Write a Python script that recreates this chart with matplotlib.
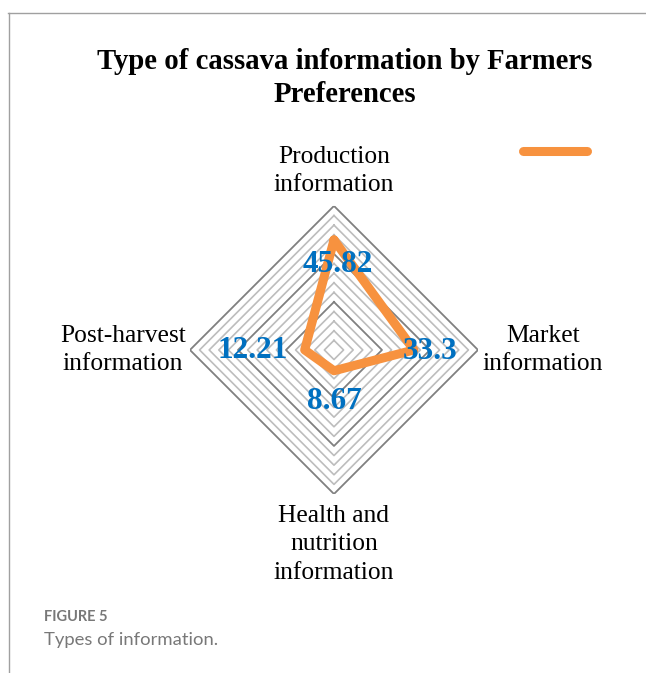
import numpy as np
import matplotlib
matplotlib.use('Agg')
import matplotlib.pyplot as plt
from matplotlib.lines import Line2D

plt.rcParams['font.family'] = ['Liberation Serif', 'DejaVu Serif']

# 数据
categories = ['Production\ninformation', 'Market\ninformation',
              'Health and\nnutrition\ninformation', 'Post-harvest\ninformation']
values = [45.82, 33.3, 8.67, 12.21]
value_labels = ['45.82', '33.3', '8.67', '12.21']
rmax = 60
ring_step = 4
major_step = 20

theta = np.arange(len(categories)) * 2 * np.pi / len(categories)

fig = plt.figure(figsize=(6.46, 6.73), dpi=100)
ax = fig.add_axes([0.294, 0.266, 0.446, 0.428], projection='polar')
ax.set_theta_offset(np.pi / 2)
ax.set_theta_direction(-1)
ax.set_ylim(0, rmax)
ax.grid(False)
ax.spines['polar'].set_visible(False)
ax.set_xticks([])
ax.set_yticks([])
ax.patch.set_alpha(0)

# 菱形网格线
th_closed = np.append(theta, theta[0])
for r in np.arange(ring_step, rmax + 0.1, ring_step):
    major = abs(r % major_step) < 1e-6
    ax.plot(th_closed, [r] * len(th_closed),
            color='#808080' if major else '#bdbdbd',
            lw=1.3 if major else 1.2, zorder=1)

# 数据线
vals_closed = values + values[:1]
line, = ax.plot(th_closed, vals_closed, color='#F7923F', lw=6.5,
                solid_joinstyle='round', solid_capstyle='round', zorder=3)

# 数据标签
offsets = [(4, -25), (16, -2), (0, -31), (-52, -1)]
for t, v, s, off in zip(theta, values, value_labels, offsets):
    ax.annotate(s, xy=(t, v), xytext=off, textcoords='offset pixels',
                ha='center', va='center', fontsize=22.5, fontweight='bold',
                color='#0070C0', zorder=4)

# 类别标签
label_r = [74.5, 87, 81, 88]
for t, c, r in zip(theta, categories, label_r):
    ax.text(t, r, c, ha='center', va='center', fontsize=18.4,
            linespacing=1.36, color='black')

# 标题
fig.text(0.534, 1 - 78 / 673, 'Type of cassava information by Farmers\nPreferences',
         ha='center', va='center', fontsize=20.7, fontweight='bold',
         linespacing=1.3)

# 图例（无文字）
ax.legend(handles=[line], labels=[''], loc='center left', frameon=False,
          bbox_to_anchor=(523 / 646, 1 - 152 / 673),
          bbox_transform=fig.transFigure, handlelength=4.6, fontsize=10,
          borderpad=0, borderaxespad=0, handletextpad=0)

# 外框线
fig.add_artist(Line2D([8 / 646, 1], [1 - 13 / 673, 1 - 13 / 673],
                      transform=fig.transFigure, color='#a0a0a0', lw=1))
fig.add_artist(Line2D([9 / 646, 9 / 646], [0, 1 - 13 / 673],
                      transform=fig.transFigure, color='#a0a0a0', lw=1))

# 图注
fig.text(44 / 646, 1 - 617 / 673, 'FIGURE 5', ha='left', va='center',
         fontsize=10.5, fontweight='bold', color='#787878', family='Lato')
fig.text(44 / 646, 1 - 640 / 673, 'Types of information.', ha='left',
         va='center', fontsize=13.3, color='#787878', family='Lato')

fig.savefig('out.png', dpi=100, facecolor='white')
